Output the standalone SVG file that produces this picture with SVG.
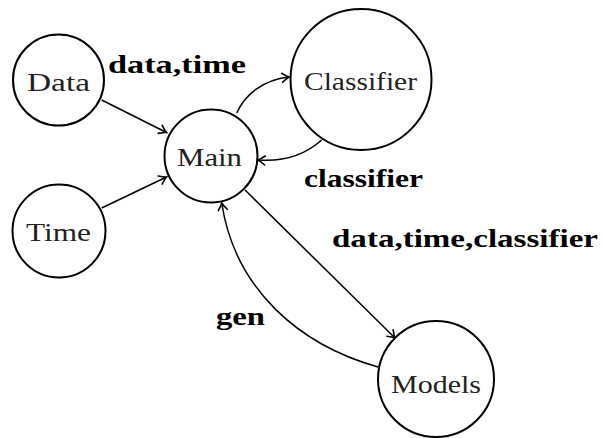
<svg xmlns="http://www.w3.org/2000/svg" width="605" height="438" viewBox="0 0 605 438">
<style>
.node{fill:#fff;stroke:#000;stroke-width:2}
.lbl{font-family:"Liberation Serif","Times New Roman",serif;font-size:26px;fill:#222}
.elbl{font-family:"Liberation Serif","Times New Roman",serif;font-size:26px;font-weight:bold;fill:#000}
.edge{fill:none;stroke:#000;stroke-width:1.5}
</style>
<defs>
<marker id="arr" markerUnits="userSpaceOnUse" viewBox="-10 -6 12 12" markerWidth="12" markerHeight="12" refX="0" refY="0" orient="auto">
<path d="M-7,-4.5 Q-2.5,-1 0,0 Q-2.5,1 -7,4.5" fill="none" stroke="#000" stroke-width="1.6" stroke-linecap="round"/>
</marker>
</defs>
<g id="connectors">
<path class="edge" d="M101.7,100 L166.5,132.5" marker-end="url(#arr)"/>
<path class="edge" d="M101.7,208 L166.5,177" marker-end="url(#arr)"/>
<path class="edge" d="M236.7,113 C245,95 262,80 289,77" marker-end="url(#arr)"/>
<path class="edge" d="M321.7,140 C305,155 285,162 258,160" marker-end="url(#arr)"/>
<path class="edge" d="M245,190 L395,338" marker-end="url(#arr)"/>
<path class="edge" d="M378,367 C300,345 235,290 221.7,203" marker-end="url(#arr)"/>
</g>
<g id="labels">
<text class="elbl" x="108" y="72.5" textLength="138" lengthAdjust="spacingAndGlyphs">data,time</text>
<text class="elbl" x="304" y="186.5" textLength="119" lengthAdjust="spacingAndGlyphs">classifier</text>
<text class="elbl" x="332" y="247" textLength="266" lengthAdjust="spacingAndGlyphs">data,time,classifier</text>
<text class="elbl" x="216" y="324.5" textLength="49" lengthAdjust="spacingAndGlyphs">gen</text>
</g>
<g id="node-data">
<circle class="node" cx="58.5" cy="80" r="45.5"/>
<text class="lbl" x="27" y="90.5" textLength="63" lengthAdjust="spacingAndGlyphs">Data</text>
</g>
<g id="node-time">
<circle class="node" cx="59" cy="231" r="46.5"/>
<text class="lbl" x="26" y="240.5" textLength="65" lengthAdjust="spacingAndGlyphs">Time</text>
</g>
<g id="node-main">
<circle class="node" cx="211" cy="156" r="46.5"/>
<text class="lbl" x="177" y="166" textLength="65" lengthAdjust="spacingAndGlyphs">Main</text>
</g>
<g id="node-classifier">
<circle class="node" cx="361" cy="79.5" r="70.5"/>
<text class="lbl" x="304" y="90" textLength="113" lengthAdjust="spacingAndGlyphs">Classifier</text>
</g>
<g id="node-models">
<circle class="node" cx="436" cy="379" r="58"/>
<text class="lbl" x="391" y="392.5" textLength="90" lengthAdjust="spacingAndGlyphs">Models</text>
</g>
</svg>
